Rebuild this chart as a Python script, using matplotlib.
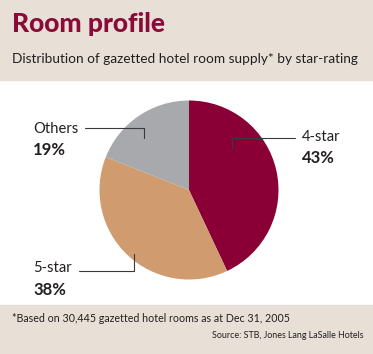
#room profile pie chart
import matplotlib
matplotlib.use('Agg')
import matplotlib.pyplot as plt
from matplotlib import font_manager
from matplotlib.patches import Rectangle
import numpy as np

# data
categories = ['4-star', '5-star', 'Others']
shares = [43, 38, 19]
pct_labels = ['43%', '38%', '19%']
title = 'Room profile'
subtitle = 'Distribution of gazetted hotel room supply* by star-rating'
footnote = '*Based on 30,445 gazetted hotel rooms as at Dec 31, 2005'
source = 'Source: STB, Jones Lang LaSalle Hotels'

colors = ['#8a0036', '#cf9b6f', '#a7a9ac']
beige = '#e8e0d7'
maroon = '#8a0a3a'
ink = '#231f20'

# pick a narrow font if there is one
try:
    font_manager.findfont('Liberation Sans Narrow', fallback_to_default=False)
    narrow = 'Liberation Sans Narrow'
    k = 1.0
except Exception:
    narrow = 'Lato'
    k = 0.85

W, H = 373, 354
fig = plt.figure(figsize=(W/100, H/100), dpi=100)
fig.patch.set_facecolor('white')

#beige bands top and bottom
fig.patches.append(Rectangle((0, (H-80)/H), 1, 80/H, transform=fig.transFigure, color=beige, zorder=0))
fig.patches.append(Rectangle((0, 0), 1, 49/H, transform=fig.transFigure, color=beige, zorder=0))

def px(x, y):
    return x/W, (H-y)/H

fig.text(*px(12, 24), title, fontsize=19, fontweight=900, color=maroon, family='Lato', va='center')
fig.text(*px(12, 59), subtitle, fontsize=11.5*k, color=ink, family=narrow, va='center')
fig.text(*px(12, 319), footnote, fontsize=9.0*k, color=ink, family=narrow, va='center')
fig.text(*px(363, 335), source, fontsize=7.5*k, color=ink, family=narrow, va='center', ha='right')

# pie axes: centre (189,190), radius ~89.5 px
r = 89.5
ax = fig.add_axes([(189-r)/W, (H-190-r)/H, 2*r/W, 2*r/H])
wedges, _ = ax.pie(shares, colors=colors, startangle=90, counterclock=False,
                   radius=1, wedgeprops=dict(linewidth=0))
ax.set_xlim(-1, 1)
ax.set_ylim(-1, 1)
ax.set_aspect('equal')
ax.axis('off')

# where leader lines touch each wedge (fraction along the arc, radius)
anchors = [(0.70, 0.67), (0.52, 0.94), (0.60, 0.77)]
# label spots in pixels from the top-left
name_pos = [(302, 137), (33, 268), (33, 129)]
pct_pos = [(302, 158), (33, 290), (33, 150)]
relpos = [(0, 0.4), (1, 0.3), (1, 0.55)]

for i, w in enumerate(wedges):
    f, rr = anchors[i]
    ang = np.deg2rad(w.theta1 + f*(w.theta2 - w.theta1))
    xy = (rr*np.cos(ang), rr*np.sin(ang))
    nx, ny = name_pos[i]
    ax.annotate(categories[i], xy=xy, xycoords='data',
                xytext=(nx, H-ny), textcoords='figure pixels',
                fontsize=12.5*k, color=ink, family=narrow, va='center', ha='left',
                arrowprops=dict(arrowstyle='-', color='#3a3a3a', lw=0.8,
                                connectionstyle='angle,angleA=0,angleB=90,rad=0',
                                relpos=relpos[i], shrinkA=3, shrinkB=0),
                annotation_clip=False)
    qx, qy = pct_pos[i]
    fig.text(qx/W, (H-qy)/H, pct_labels[i], fontsize=12, fontweight='bold',
             color=ink, family='Lato', va='center', ha='left')

plt.savefig('out.png', dpi=100, facecolor=fig.get_facecolor())
